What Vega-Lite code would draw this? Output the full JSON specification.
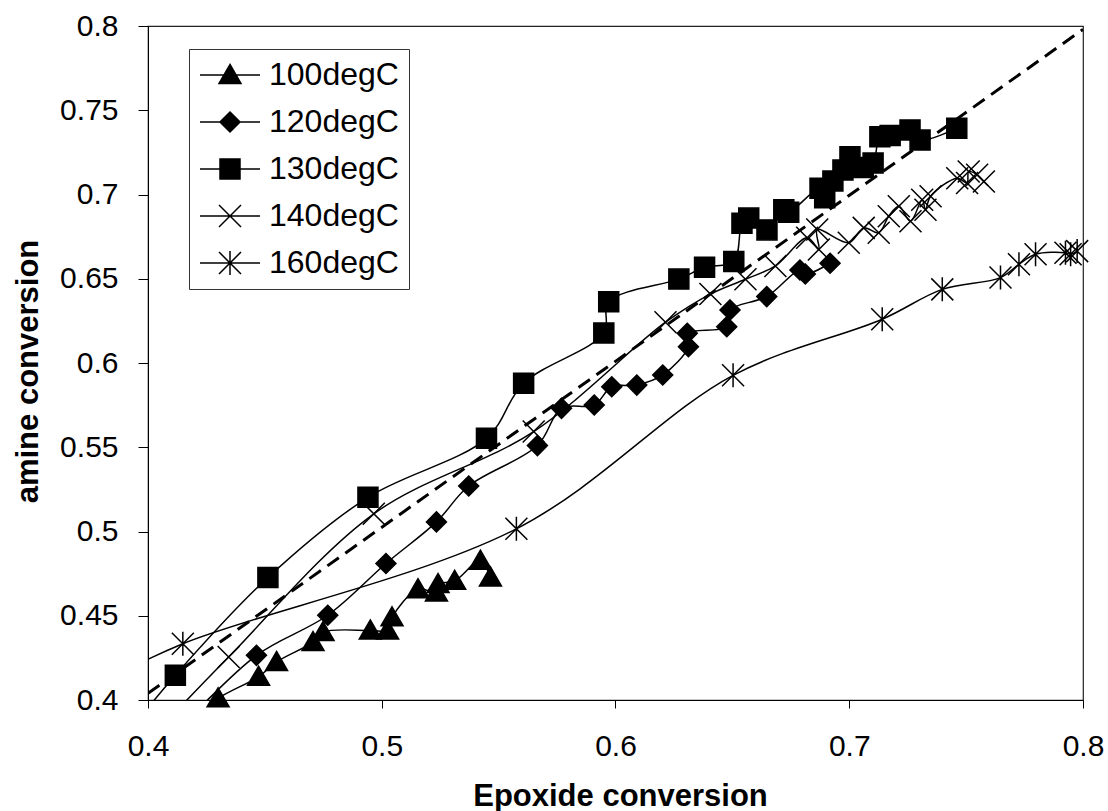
{
  "$schema": "https://vega.github.io/schema/vega-lite/v6.json",
  "width": 935,
  "height": 674,
  "autosize": "none",
  "padding": {"left": 148, "top": 26, "right": 25, "bottom": 111},
  "background": "white",
  "config": {
    "font": "Liberation Sans",
    "view": {"stroke": "#222222", "strokeWidth": 1.2},
    "axis": {"grid": false, "domainColor": "black", "tickColor": "black", "labelColor": "black", "titleColor": "black", "labelFont": "Liberation Sans", "titleFont": "Liberation Sans", "labelFlush": false, "labelOverlap": false, "labelBound": false}
  },
  "datasets": {
    "ref": [
      {"x": 0.4, "y": 0.404},
      {"x": 0.8, "y": 0.798}
    ],
    "series": [
      {"series": "100degC", "i": 0, "x": 0.41, "y": 0.38},
      {"series": "100degC", "i": 1, "x": 0.430, "y": 0.401},
      {"series": "100degC", "i": 2, "x": 0.4473, "y": 0.4138},
      {"series": "100degC", "i": 3, "x": 0.455, "y": 0.4226},
      {"series": "100degC", "i": 4, "x": 0.4706, "y": 0.4344},
      {"series": "100degC", "i": 5, "x": 0.4749, "y": 0.4403},
      {"series": "100degC", "i": 6, "x": 0.4951, "y": 0.4413},
      {"series": "100degC", "i": 7, "x": 0.5025, "y": 0.4413},
      {"series": "100degC", "i": 8, "x": 0.5044, "y": 0.4491},
      {"series": "100degC", "i": 9, "x": 0.5155, "y": 0.4658},
      {"series": "100degC", "i": 10, "x": 0.5234, "y": 0.4638},
      {"series": "100degC", "i": 11, "x": 0.5241, "y": 0.4688},
      {"series": "100degC", "i": 12, "x": 0.5312, "y": 0.4707},
      {"series": "100degC", "i": 13, "x": 0.5422, "y": 0.4827},
      {"series": "100degC", "i": 14, "x": 0.5465, "y": 0.4727},

      {"series": "120degC", "i": 0, "x": 0.415, "y": 0.385},
      {"series": "120degC", "i": 1, "x": 0.4464, "y": 0.4265},
      {"series": "120degC", "i": 2, "x": 0.4769, "y": 0.4503},
      {"series": "120degC", "i": 3, "x": 0.5018, "y": 0.481},
      {"series": "120degC", "i": 4, "x": 0.5234, "y": 0.5057},
      {"series": "120degC", "i": 5, "x": 0.5372, "y": 0.527},
      {"series": "120degC", "i": 6, "x": 0.5666, "y": 0.551},
      {"series": "120degC", "i": 7, "x": 0.5769, "y": 0.5731},
      {"series": "120degC", "i": 8, "x": 0.5909, "y": 0.5751},
      {"series": "120degC", "i": 9, "x": 0.5984, "y": 0.5859},
      {"series": "120degC", "i": 10, "x": 0.6091, "y": 0.5869},
      {"series": "120degC", "i": 11, "x": 0.6202, "y": 0.5929},
      {"series": "120degC", "i": 12, "x": 0.6312, "y": 0.6097},
      {"series": "120degC", "i": 13, "x": 0.6307, "y": 0.6176},
      {"series": "120degC", "i": 14, "x": 0.6476, "y": 0.6215},
      {"series": "120degC", "i": 15, "x": 0.649, "y": 0.6315},
      {"series": "120degC", "i": 16, "x": 0.6647, "y": 0.6394},
      {"series": "120degC", "i": 17, "x": 0.6789, "y": 0.6552},
      {"series": "120degC", "i": 18, "x": 0.6812, "y": 0.6528},
      {"series": "120degC", "i": 19, "x": 0.6918, "y": 0.6592},

      {"series": "130degC", "i": 0, "x": 0.39, "y": 0.378},
      {"series": "130degC", "i": 1, "x": 0.4117, "y": 0.4147},
      {"series": "130degC", "i": 2, "x": 0.4513, "y": 0.4727},
      {"series": "130degC", "i": 3, "x": 0.4941, "y": 0.5203},
      {"series": "130degC", "i": 4, "x": 0.5448, "y": 0.5553},
      {"series": "130degC", "i": 5, "x": 0.5607, "y": 0.588},
      {"series": "130degC", "i": 6, "x": 0.595, "y": 0.6178},
      {"series": "130degC", "i": 7, "x": 0.5971, "y": 0.6363},
      {"series": "130degC", "i": 8, "x": 0.6271, "y": 0.6498},
      {"series": "130degC", "i": 9, "x": 0.6381, "y": 0.6568},
      {"series": "130degC", "i": 10, "x": 0.6506, "y": 0.6602},
      {"series": "130degC", "i": 11, "x": 0.6541, "y": 0.6829},
      {"series": "130degC", "i": 12, "x": 0.657, "y": 0.686},
      {"series": "130degC", "i": 13, "x": 0.6648, "y": 0.679},
      {"series": "130degC", "i": 14, "x": 0.672, "y": 0.691},
      {"series": "130degC", "i": 15, "x": 0.6741, "y": 0.6895},
      {"series": "130degC", "i": 16, "x": 0.6875, "y": 0.7037},
      {"series": "130degC", "i": 17, "x": 0.6895, "y": 0.698},
      {"series": "130degC", "i": 18, "x": 0.693, "y": 0.708},
      {"series": "130degC", "i": 19, "x": 0.6973, "y": 0.7145},
      {"series": "130degC", "i": 20, "x": 0.7003, "y": 0.7224},
      {"series": "130degC", "i": 21, "x": 0.706, "y": 0.716},
      {"series": "130degC", "i": 22, "x": 0.7102, "y": 0.7187},
      {"series": "130degC", "i": 23, "x": 0.7131, "y": 0.7343},
      {"series": "130degC", "i": 24, "x": 0.7175, "y": 0.735},
      {"series": "130degC", "i": 25, "x": 0.726, "y": 0.7383},
      {"series": "130degC", "i": 26, "x": 0.7303, "y": 0.7323},
      {"series": "130degC", "i": 27, "x": 0.746, "y": 0.7393},

      {"series": "140degC", "i": 0, "x": 0.405, "y": 0.383},
      {"series": "140degC", "i": 1, "x": 0.4345, "y": 0.4255},
      {"series": "140degC", "i": 2, "x": 0.4966, "y": 0.5105},
      {"series": "140degC", "i": 3, "x": 0.565, "y": 0.5593},
      {"series": "140degC", "i": 4, "x": 0.6214, "y": 0.6242},
      {"series": "140degC", "i": 5, "x": 0.6406, "y": 0.6409},
      {"series": "140degC", "i": 6, "x": 0.6556, "y": 0.6497},
      {"series": "140degC", "i": 7, "x": 0.6684, "y": 0.6576},
      {"series": "140degC", "i": 8, "x": 0.682, "y": 0.6743},
      {"series": "140degC", "i": 9, "x": 0.687, "y": 0.6674},
      {"series": "140degC", "i": 10, "x": 0.6863, "y": 0.6792},
      {"series": "140degC", "i": 11, "x": 0.6998, "y": 0.6714},
      {"series": "140degC", "i": 12, "x": 0.7062, "y": 0.6802},
      {"series": "140degC", "i": 13, "x": 0.7126, "y": 0.6773},
      {"series": "140degC", "i": 14, "x": 0.7169, "y": 0.6871},
      {"series": "140degC", "i": 15, "x": 0.7212, "y": 0.693},
      {"series": "140degC", "i": 16, "x": 0.7262, "y": 0.6841},
      {"series": "140degC", "i": 17, "x": 0.7312, "y": 0.6969},
      {"series": "140degC", "i": 18, "x": 0.7326, "y": 0.691},
      {"series": "140degC", "i": 19, "x": 0.7348, "y": 0.699},
      {"series": "140degC", "i": 20, "x": 0.7462, "y": 0.7097},
      {"series": "140degC", "i": 21, "x": 0.7504, "y": 0.7068},
      {"series": "140degC", "i": 22, "x": 0.7511, "y": 0.7136},
      {"series": "140degC", "i": 23, "x": 0.7547, "y": 0.7117},
      {"series": "140degC", "i": 24, "x": 0.7576, "y": 0.7077},

      {"series": "160degC", "i": 0, "x": 0.38, "y": 0.41},
      {"series": "160degC", "i": 1, "x": 0.4149, "y": 0.4334},
      {"series": "160degC", "i": 2, "x": 0.5576, "y": 0.5016},
      {"series": "160degC", "i": 3, "x": 0.6503, "y": 0.5927},
      {"series": "160degC", "i": 4, "x": 0.7141, "y": 0.626},
      {"series": "160degC", "i": 5, "x": 0.7398, "y": 0.6437},
      {"series": "160degC", "i": 6, "x": 0.7647, "y": 0.6507},
      {"series": "160degC", "i": 7, "x": 0.7726, "y": 0.6586},
      {"series": "160degC", "i": 8, "x": 0.7797, "y": 0.6645},
      {"series": "160degC", "i": 9, "x": 0.7925, "y": 0.6654},
      {"series": "160degC", "i": 10, "x": 0.7947, "y": 0.6645},
      {"series": "160degC", "i": 11, "x": 0.7975, "y": 0.6664}
    ]
  },
  "resolve": {"scale": {"shape": "independent"}, "legend": {"shape": "independent"}},
  "layer": [
    {
      "data": {"name": "ref"},
      "mark": {"type": "line", "color": "black", "strokeWidth": 3, "strokeDash": [14, 8], "clip": true},
      "encoding": {
        "x": {
          "field": "x", "type": "quantitative",
          "scale": {"domain": [0.4, 0.8], "nice": false, "zero": false},
          "axis": {
            "values": [0.4, 0.5, 0.6, 0.7, 0.8], "format": ".1f",
            "title": "Epoxide conversion",
            "tickSize": 8, "labelPadding": 23, "labelFontSize": 30,
            "titleFontSize": 31, "titleFontWeight": "bold",
            "titleX": 472, "titleY": 105, "titleBaseline": "alphabetic", "titleAlign": "center"
          }
        },
        "y": {
          "field": "y", "type": "quantitative",
          "scale": {"domain": [0.4, 0.8], "nice": false, "zero": false},
          "axis": {
            "values": [0.4, 0.45, 0.5, 0.55, 0.6, 0.65, 0.7, 0.75, 0.8], "format": ".2~f",
            "title": "amine conversion",
            "tickSize": 10, "labelPadding": 20, "labelFontSize": 30,
            "titleFontSize": 31, "titleFontWeight": "bold",
            "titleX": -111, "titleY": 345, "titleBaseline": "alphabetic", "titleAlign": "center", "titleAngle": 270
          }
        }
      }
    },
    {
      "data": {"name": "series"},
      "mark": {"type": "line", "color": "black", "strokeWidth": 1.5, "interpolate": "catmull-rom", "clip": true},
      "encoding": {
        "x": {"field": "x", "type": "quantitative"},
        "y": {"field": "y", "type": "quantitative"},
        "detail": {"field": "series", "type": "nominal"},
        "order": {"field": "i", "type": "quantitative"}
      }
    },
    {
      "data": {"name": "series"},
      "transform": [{"filter": "datum.x >= 0.4 && datum.y >= 0.395"}],
      "mark": {"type": "point", "filled": true, "fill": "black", "stroke": "black", "strokeWidth": 1.5, "size": 400, "opacity": 1},
      "encoding": {
        "x": {"field": "x", "type": "quantitative"},
        "y": {"field": "y", "type": "quantitative"},
        "shape": {
          "field": "series", "type": "nominal",
          "scale": {
            "domain": ["100degC", "120degC", "130degC", "140degC", "160degC"],
            "range": [
              "M0,-1.05L1.1,0.85L-1.1,0.85Z",
              "M0,-1L1,0L0,1L-1,0Z",
              "M-1,-1L1,-1L1,1L-1,1Z",
              "M-1.1,-1.1L1.1,1.1M1.1,-1.1L-1.1,1.1",
              "M-1.1,-1.1L1.1,1.1M1.1,-1.1L-1.1,1.1M0,-1.2L0,1.2"
            ]
          },
          "legend": null
        }
      }
    },
    {
      "data": {"name": "series"},
      "transform": [{"filter": "datum.i < 0"}],
      "mark": {"type": "point", "filled": true, "fill": "black", "stroke": "black", "strokeWidth": 1.5, "size": 400, "opacity": 1},
      "encoding": {
        "x": {"field": "x", "type": "quantitative"},
        "y": {"field": "y", "type": "quantitative"},
        "shape": {
          "field": "series", "type": "nominal",
          "scale": {
            "domain": ["100degC", "120degC", "130degC", "140degC", "160degC"],
            "range": [
              "M-3,0L3,0M0,-1.05L1.1,0.85L-1.1,0.85Z",
              "M-3,0L3,0M0,-1L1,0L0,1L-1,0Z",
              "M-3,0L3,0M-1,-1L1,-1L1,1L-1,1Z",
              "M-3,0L3,0M-1.1,-1.1L1.1,1.1M1.1,-1.1L-1.1,1.1",
              "M-3,0L3,0M-1.1,-1.1L1.1,1.1M1.1,-1.1L-1.1,1.1M0,-1.2L0,1.2"
            ]
          },
          "legend": {
            "title": null,
            "orient": "none",
            "legendX": 41,
            "legendY": 23,
            "padding": 10,
            "strokeColor": "#333333",
            "fillColor": "white",
            "labelFontSize": 32,
            "labelFont": "Liberation Sans",
            "labelColor": "black",
            "labelLimit": 300,
            "symbolSize": 400,
            "symbolStrokeWidth": 1.5,
            "symbolOffset": 15,
            "labelOffset": 23,
            "rowPadding": 15
          }
        }
      }
    }
  ]
}
